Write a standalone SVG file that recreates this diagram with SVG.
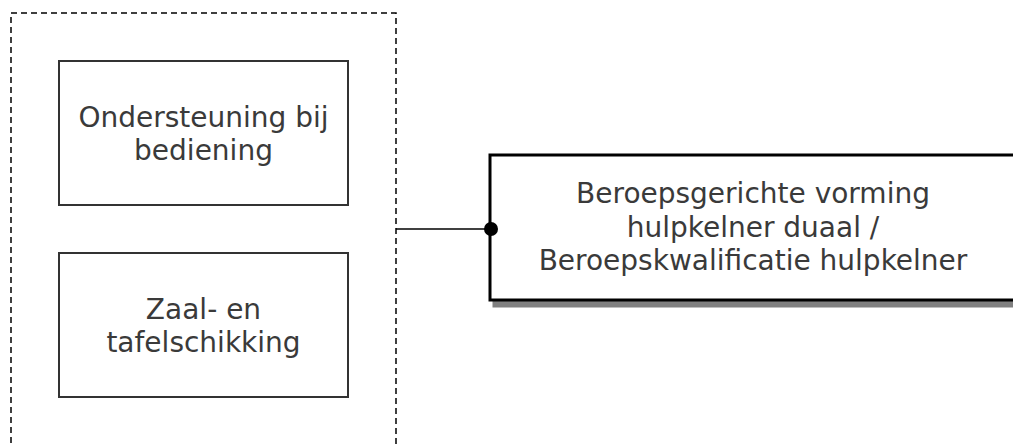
<svg xmlns="http://www.w3.org/2000/svg" width="1013" height="444" viewBox="0 0 1013 444">
  <style>
    .lbl { font-family: "DejaVu Sans", Verdana, sans-serif; font-size: 28px; fill: #3a3a3a; text-anchor: middle; }
    .box { fill: #fff; stroke: #333; stroke-width: 2; }
  </style>
  <rect width="1013" height="444" fill="#fff"/>
  <g id="container">
    <rect x="11" y="13" width="385" height="460" fill="none" stroke="#000" stroke-width="1.5" stroke-dasharray="6 4"/>
  </g>
  <g id="node-ondersteuning">
    <rect class="box" x="59" y="61" width="289" height="144"/>
    <text class="lbl" x="203.5" y="127">Ondersteuning bij</text>
    <text class="lbl" x="203.5" y="160">bediening</text>
  </g>
  <g id="node-zaal">
    <rect class="box" x="59" y="253" width="289" height="144"/>
    <text class="lbl" x="203.5" y="319">Zaal- en</text>
    <text class="lbl" x="203.5" y="352">tafelschikking</text>
  </g>
  <g id="node-beroeps">
    <rect x="494" y="161" width="530" height="145" fill="#808080" stroke="#808080" stroke-width="3"/>
    <rect x="490" y="155" width="530" height="145" fill="#fff" stroke="#000" stroke-width="3"/>
    <text class="lbl" x="753" y="203">Beroepsgerichte vorming</text>
    <text class="lbl" x="753" y="237">hulpkelner duaal /</text>
    <text class="lbl" x="753" y="270">Beroepskwalificatie hulpkelner</text>
  </g>
  <g id="connectors">
    <line x1="396" y1="229" x2="490" y2="229" stroke="#000" stroke-width="1.5"/>
    <circle cx="491" cy="229" r="7" fill="#000"/>
  </g>
</svg>
